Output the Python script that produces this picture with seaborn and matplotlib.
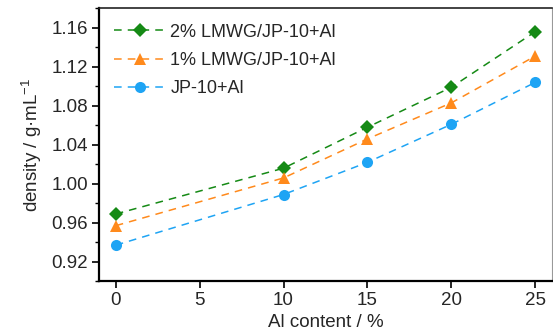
import pandas as pd
import matplotlib
matplotlib.use("Agg")
import matplotlib.pyplot as plt
import seaborn as sns
from matplotlib.ticker import MultipleLocator

al_content = [0, 10, 15, 20, 25]
lmwg2 = [0.969, 1.016, 1.058, 1.099, 1.156]
lmwg1 = [0.957, 1.006, 1.046, 1.083, 1.131]
jp10 = [0.937, 0.989, 1.022, 1.061, 1.104]
labels = ['2% LMWG/JP-10+Al', '1% LMWG/JP-10+Al', 'JP-10+Al']
colors = ['#158a15', '#ff8a1c', '#1ea4f4']
markers = ['D', '^', 'o']

df = pd.DataFrame({'Al': al_content * 3,
                   'density': lmwg2 + lmwg1 + jp10,
                   'sample': [l for l in labels for _ in al_content]})

sns.set_style('ticks')
plt.rcParams['font.family'] = ['Liberation Sans', 'DejaVu Sans']
plt.rcParams['mathtext.fontset'] = 'custom'
plt.rcParams['mathtext.rm'] = 'Liberation Sans'
plt.rcParams['mathtext.it'] = 'Liberation Sans'

fs = 13.5
fig, ax = plt.subplots(figsize=(5.53, 3.36), dpi=100)
for lab, c, m in zip(labels, colors, markers):
    sub = df[df['sample'] == lab]
    sns.lineplot(data=sub, x='Al', y='density', ax=ax, color=c, marker=m,
                 markersize=8 if m != 'D' else 7, markeredgewidth=0,
                 linestyle=(0, (5, 4)), linewidth=1.1, label=lab)

ax.set_xlim(-1, 26)
ax.set_ylim(0.90, 1.18)
ax.set_xticks([0, 5, 10, 15, 20, 25])
ax.set_yticks([0.92, 0.96, 1.00, 1.04, 1.08, 1.12, 1.16])
ax.yaxis.set_minor_locator(MultipleLocator(0.02))
ax.tick_params(axis='both', which='major', labelsize=fs, length=5, width=1.2,
               color='black', pad=3)
ax.tick_params(axis='y', which='minor', length=3, width=1.0, color='black')
ax.set_xlabel('Al content / %', fontsize=fs, labelpad=3)
ax.set_ylabel('density / g·mL$^{-1}$', fontsize=fs, labelpad=5)

for s in ['left', 'bottom']:
    ax.spines[s].set_linewidth(1.6)
    ax.spines[s].set_color('black')
ax.spines['top'].set_linewidth(1.2)
ax.spines['top'].set_color('#222222')
ax.spines['right'].set_linewidth(0.8)
ax.spines['right'].set_color('#999999')

leg = ax.legend(loc='upper left', frameon=False, fontsize=13, handlelength=2.8,
                borderaxespad=0.55, labelspacing=0.62, handletextpad=0.3,
                borderpad=0.3)

fig.subplots_adjust(left=0.179, right=0.998, top=0.975, bottom=0.163)
fig.savefig('out.png', dpi=100)
